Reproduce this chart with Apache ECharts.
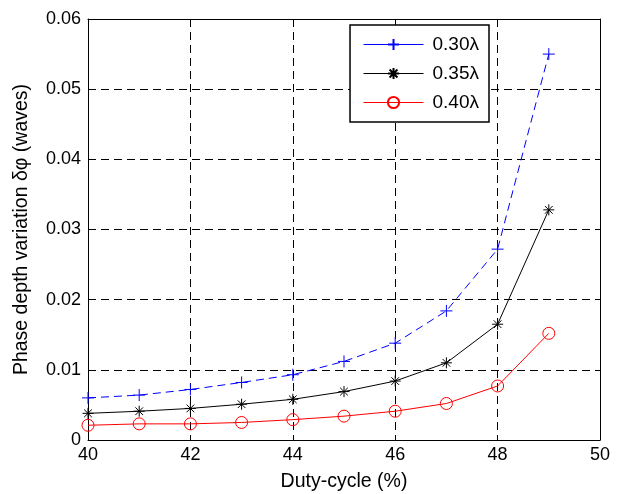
<!DOCTYPE html>
<html>
<head>
<meta charset="utf-8">
<script src="https://cdn.jsdelivr.net/npm/echarts@6/dist/echarts.min.js"></script>
<style>
  html, body { margin: 0; padding: 0; background: #fff; }
  #main { width: 617px; height: 494px; }
</style>
</head>
<body>
<div id="main"></div>
<script>
// duty-cycle (%) values on the x axis
const dutyCycle = [40, 41, 42, 43, 44, 45, 46, 47, 48, 49];
// phase depth variation (waves) per ridge width
const w030 = [0.0060, 0.0064, 0.0072, 0.0082, 0.0093, 0.0112, 0.0138, 0.0184, 0.0272, 0.0550];
const w035 = [0.0038, 0.0041, 0.0045, 0.0051, 0.0058, 0.0069, 0.0084, 0.0110, 0.0165, 0.0328];
const w040 = [0.0021, 0.0023, 0.0023, 0.0025, 0.0029, 0.0034, 0.0041, 0.0052, 0.0077, 0.0152];
const seriesNames = ['0.30λ', '0.35λ', '0.40λ'];

const FONT = 'Liberation Sans, Arial, sans-serif';
const plusSym = 'path://M0,-1L0,1M-1,0L1,0';
const starSym = 'path://M0,-1L0,1M-1,0L1,0M-0.7,-0.7L0.7,0.7M-0.7,0.7L0.7,-0.7';

const pairs = arr => dutyCycle.map((x, i) => [x, arr[i]]);

const chart = echarts.init(document.getElementById('main'));

const gridLine = { show: true, lineStyle: { color: '#000', type: [8, 5], width: 1 } };
const frameLine = { show: true, onZero: false, lineStyle: { color: '#000', width: 1 } };
const tick = { show: true, inside: true, length: 5, lineStyle: { color: '#000' } };

const option = {
  animation: false,
  backgroundColor: '#fff',
  textStyle: { fontFamily: FONT },
  grid: { left: 88, top: 19, right: 17, bottom: 54, containLabel: false, outerBoundsMode: 'none' },
  legend: {
    right: 128, top: 25,
    orient: 'vertical',
    backgroundColor: '#fff',
    borderColor: '#000', borderWidth: 1.5, borderRadius: 0,
    padding: [10, 10, 10, 13],
    itemGap: 10,
    itemWidth: 60, itemHeight: 14,
    lineStyle: { width: 1, type: 'solid' },
    textStyle: { fontSize: 19, color: '#000', fontFamily: FONT, padding: [0, 0, 0, 4] },
    data: seriesNames
  },
  xAxis: [{
    type: 'value', min: 40, max: 50, interval: 2,
    name: 'Duty-cycle (%)', nameLocation: 'middle', nameGap: 32,
    nameTextStyle: { fontSize: 19.5, color: '#000', fontFamily: FONT },
    axisLine: frameLine,
    axisTick: tick,
    axisLabel: { fontSize: 18, color: '#000', margin: 6, fontFamily: FONT },
    splitLine: gridLine
  }, {
    type: 'value', min: 40, max: 50, interval: 2, position: 'top',
    axisLine: frameLine,
    axisTick: tick,
    axisLabel: { show: false },
    splitLine: { show: false }
  }],
  yAxis: [{
    type: 'value', min: 0, max: 0.06, interval: 0.01,
    name: 'Phase depth variation δφ (waves)', nameLocation: 'middle', nameGap: 56,
    nameTextStyle: { fontSize: 19.5, color: '#000', fontFamily: FONT },
    axisLine: frameLine,
    axisTick: tick,
    axisLabel: {
      fontSize: 18, color: '#000', margin: 7, fontFamily: FONT,
      formatter: v => v === 0 ? '0' : v.toFixed(2)
    },
    splitLine: gridLine
  }, {
    type: 'value', min: 0, max: 0.06, interval: 0.01, position: 'right',
    axisLine: frameLine,
    axisTick: tick,
    axisLabel: { show: false },
    splitLine: { show: false }
  }],
  series: [
    {
      name: seriesNames[0], type: 'line', data: pairs(w030),
      symbol: plusSym, symbolSize: 12,
      lineStyle: { color: '#0000ff', width: 1, type: [8, 5] },
      itemStyle: { color: '#0000ff', borderColor: '#0000ff', borderWidth: 1 }
    },
    {
      name: seriesNames[1], type: 'line', data: pairs(w035),
      symbol: starSym, symbolSize: 11,
      lineStyle: { color: '#000', width: 1 },
      itemStyle: { color: '#000', borderColor: '#000', borderWidth: 1 }
    },
    {
      name: seriesNames[2], type: 'line', data: pairs(w040),
      symbol: 'circle', symbolSize: 12,
      lineStyle: { color: '#ff0000', width: 1 },
      itemStyle: { color: 'rgba(0,0,0,0)', borderColor: '#ff0000', borderWidth: 1 }
    }
  ]
};

chart.setOption(option);
</script>
</body>
</html>
